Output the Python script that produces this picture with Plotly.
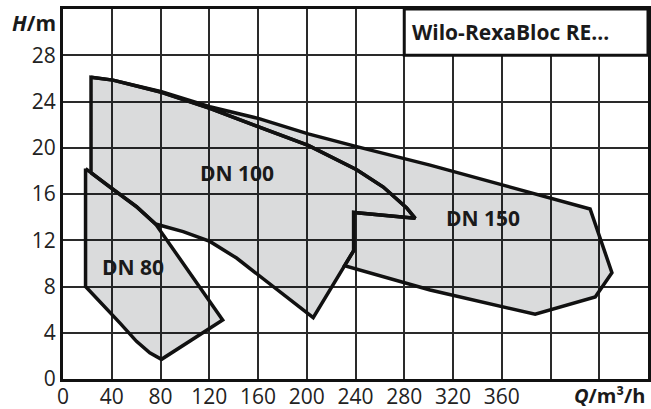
import plotly.graph_objects as go

# ---- data (Q in m3/h, H in m) ----
# DN 150 upper boundary (left to right)
dn150_top_q = [23, 41, 80.8, 120.5, 161.5, 201.2, 241, 301.2, 432.5]
dn150_top_h = [26.1, 25.85, 24.85, 23.55, 22.5, 21.2, 20.1, 18.5, 14.7]
# DN 150 right / lower boundary (right to left)
dn150_low_q = [450.4, 436.7, 387.4, 301.2, 231]
dn150_low_h = [9.2, 7.1, 5.6, 7.7, 9.8]
# notch between DN 100 and DN 150
notch_q = [238.5, 238.5, 289]
notch_h = [11.1, 14.4, 13.9]
# DN 100 upper curve (left to right)
dn100_top_q = [23, 41, 80.8, 120.5, 153.3, 201.2, 241, 262.8, 282, 289]
dn100_top_h = [26.1, 25.85, 24.8, 23.4, 22.1, 20.2, 18.1, 16.6, 14.8, 13.9]
# DN 100 lower curve (right to left)
dn100_low_q = [205.3, 180.7, 161.5, 142.4, 120.5, 98.6, 76]
dn100_low_h = [5.3, 7.29, 8.9, 10.46, 11.9, 12.75, 13.4]
# DN 80 upper edge (right to left)
dn80_top_q = [76, 60.3, 38.4, 18.5]
dn80_top_h = [13.4, 14.9, 16.6, 18.2]
# DN 80 left and lower edge (top to right tip)
dn80_low_q = [18.5, 46.6, 60.3, 71.2, 80.8, 131]
dn80_low_h = [8.0, 4.85, 3.26, 2.26, 1.7, 5.1]

x_ticks = [0, 40, 80, 120, 160, 200, 240, 280, 320, 360, 400, 440]
x_ticktext = ["0", "40", "80", "120", "160", "200", "240", "280", "320", "360", "", ""]
y_ticks = [0, 4, 8, 12, 16, 20, 24, 28]

labels = ["DN 80", "DN 100", "DN 150"]
label_q = [57.5, 142.4, 345]
label_h = [9.73, 17.8, 13.96]

title_text = "Wilo-RexaBloc RE..."

# ---- build polygons from the boundary pieces ----
p150_q = dn150_top_q + dn150_low_q + notch_q + dn100_top_q[::-1]
p150_h = dn150_top_h + dn150_low_h + notch_h + dn100_top_h[::-1]

x_meet = dn100_top_q[0]
q1, h1, q2, h2 = dn80_top_q[2], dn80_top_h[2], dn80_top_q[3], dn80_top_h[3]
h_meet = h2 + (h1 - h2) * (x_meet - q2) / (q1 - q2)
p100_q = [x_meet] + dn100_top_q + notch_q[::-1] + dn100_low_q + dn80_top_q[1:3] + [x_meet]
p100_h = [h_meet] + dn100_top_h + notch_h[::-1] + dn100_low_h + dn80_top_h[1:3] + [h_meet]

p80_q = [dn80_top_q[-1]] + dn80_low_q + dn80_top_q
p80_h = [dn80_top_h[-1]] + dn80_low_h + dn80_top_h

fill = "rgba(0,5,15,0.145)"
line = dict(color="#111111", width=3.5)

fig = go.Figure()
for qq, hh in [(p150_q, p150_h), (p100_q, p100_h), (p80_q, p80_h)]:
    fig.add_trace(go.Scatter(x=qq, y=hh, mode="lines", fill="toself",
                             fillcolor=fill, line=line, hoverinfo="skip",
                             showlegend=False))

tickfont = dict(family="Open Sans", size=21, color="#222222")
fig.update_xaxes(range=[0, 480], tickvals=x_ticks, ticktext=x_ticktext,
                 showgrid=True, gridcolor="#2a2a2a", gridwidth=1.5,
                 showline=True, linecolor="#111111", linewidth=3, mirror=True,
                 ticks="", tickfont=tickfont, zeroline=False, automargin=False,
                 ticklabelstandoff=-3)
fig.update_yaxes(range=[0, 32], tickvals=y_ticks,
                 showgrid=True, gridcolor="#2a2a2a", gridwidth=1.5,
                 showline=True, linecolor="#111111", linewidth=3, mirror=True,
                 ticks="", tickfont=tickfont, zeroline=False, automargin=False)

fig.add_shape(type="rect", x0=280, x1=480, y0=28, y1=32, xref="x", yref="y",
              fillcolor="white", line=dict(color="#111111", width=3), layer="above")
fig.add_annotation(x=285, y=30, xref="x", yref="y", text="<b>" + title_text + "</b>",
                   showarrow=False, xanchor="left", yanchor="middle",
                   font=dict(family="Open Sans", size=21, color="#1a1a1a"))

for t, qx, hy in zip(labels, label_q, label_h):
    fig.add_annotation(x=qx, y=hy, xref="x", yref="y", text="<b>" + t + "</b>",
                       showarrow=False, xanchor="center", yanchor="middle",
                       font=dict(family="Open Sans", size=21, color="#1a1a1a"))

fig.add_annotation(x=0, y=30.8, xref="paper", yref="y", text="<b><i>H</i>/m</b>",
                   showarrow=False, xanchor="right", yanchor="middle", xshift=-5,
                   font=dict(family="Open Sans", size=21, color="#1a1a1a"))
fig.add_annotation(x=1, y=0, xref="paper", yref="paper", text="<b><i>Q</i>/m³/h</b>",
                   showarrow=False, xanchor="right", yanchor="top", yshift=-1,
                   font=dict(family="Open Sans", size=20, color="#1a1a1a"))

fig.update_layout(width=651, height=409,
                  margin=dict(l=63, r=3, t=9, b=30),
                  plot_bgcolor="white", paper_bgcolor="white")

fig.write_html("out.html", config={"displayModeBar": False},
               post_script="document.body.style.margin='0';document.body.style.overflow='hidden';")
